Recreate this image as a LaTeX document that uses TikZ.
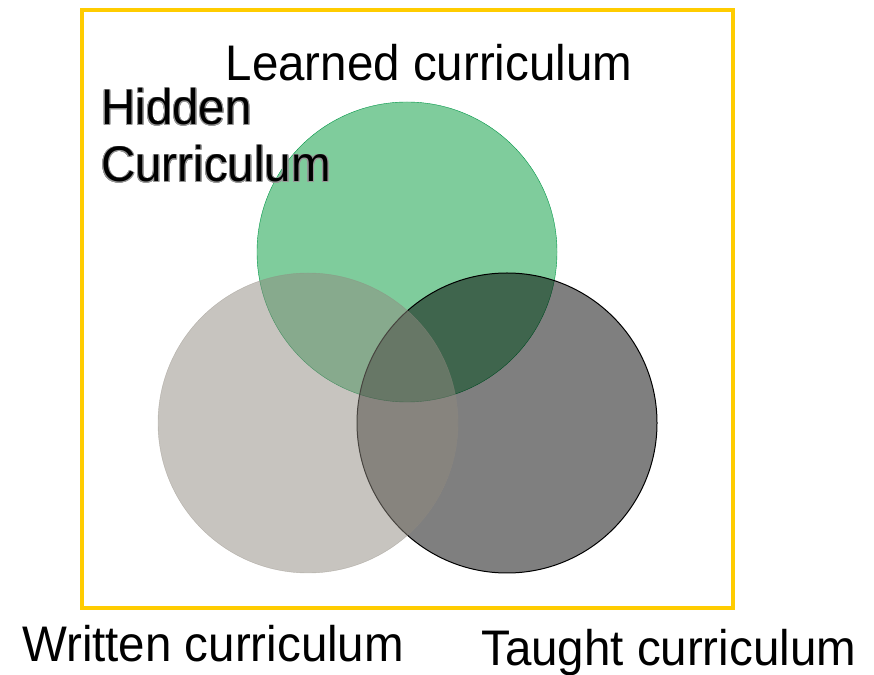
\documentclass[tikz,border=0pt]{standalone}
\usepackage{fontspec}
\usepackage{contour}
\newfontfamily\labelfont{Liberation Sans}[FakeStretch=0.95]
\definecolor{frameyellow}{RGB}{255,204,0}
\definecolor{learnedgreen}{RGB}{127,204,156}
\definecolor{learnededge}{RGB}{0,150,70}
\definecolor{writtengray}{RGB}{143,137,127}
\definecolor{hiddenglow}{RGB}{150,150,150}
\contourlength{0.9pt}
\contournumber{24}
\begin{document}
\begin{tikzpicture}[x=1pt,y=1pt,
  lbl/.style={inner sep=0pt, anchor=base west, font=\labelfont\fontsize{50}{57}\selectfont}]
\useasboundingbox (0,0) rectangle (874,674);
\draw[frameyellow, line width=4pt] (82,66) rectangle (733,664);
\draw[learnededge, fill=learnedgreen] (407,422) circle[radius=150];
\draw[black, fill=black, fill opacity=0.5, line width=1pt] (507,251) circle[radius=150];
\draw[writtengray, fill=writtengray, opacity=0.5] (308,251) circle[radius=150];
\node[lbl] (learned) at (225.5,593.3) {Learned curriculum};
\node[lbl, align=left] (hidden) at (101,492) {\contour{hiddenglow}{Hidden}\\\contour{hiddenglow}{Curriculum}};
\node[lbl] (written) at (22,12.3) {Written curriculum};
\node[lbl] (taught) at (481,8.3) {Taught curriculum};
\end{tikzpicture}
\end{document}
